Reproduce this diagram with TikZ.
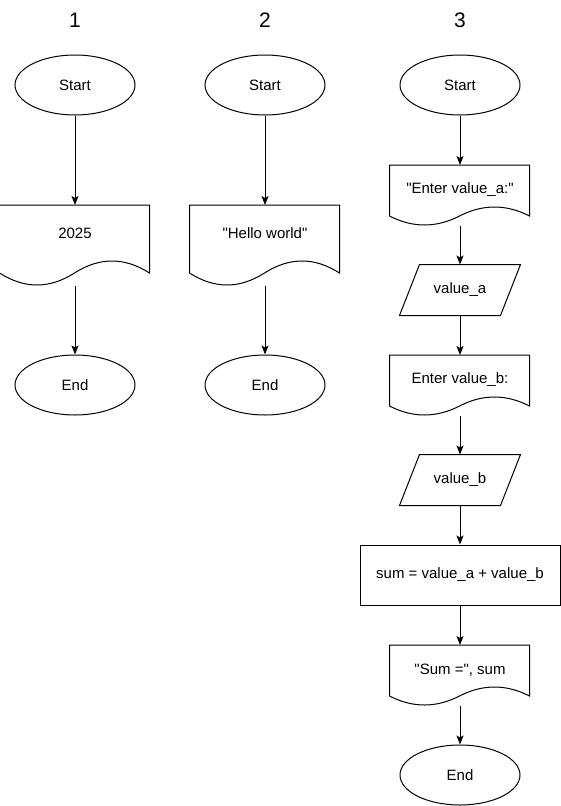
\documentclass[tikz,border=0pt]{standalone}
\usepackage{fontspec}
\setmainfont{Liberation Sans}[Ligatures=TeXOff]
\usetikzlibrary{shapes.geometric,arrows.meta}

% Document (printout) symbol: name, centre x, top y, width, height, text
\newcommand\docbox[6]{%
  \node[frame, minimum width=#4pt, minimum height=#5pt, anchor=north] (#1) at (#2,#3) {};
  \draw[shift={(#1.north west)}] (0,0) -- (#4,0) -- (#4,0.85*#5)
    .. controls (0.8333*#4,0.65*#5) and (0.6667*#4,0.65*#5) .. (0.5*#4,0.85*#5)
    .. controls (0.3333*#4,1.05*#5) and (0.1667*#4,1.05*#5) .. (0,0.85*#5) -- cycle;
  \node[txt] at ([yshift=-0.15*#5pt-16pt]#1.north) {#6};
}
% Input/output parallelogram: name, centre x, centre y, text
\newcommand\iobox[4]{%
  \node[frame, txt, minimum width=120pt, minimum height=50pt] (#1) at (#2,#3) {#4};
  \draw ([xshift=20pt]#1.north west) -- (#1.north east)
     -- ([xshift=-20pt]#1.south east) -- (#1.south west) -- cycle;
}

\begin{document}
\begin{tikzpicture}[x=1pt, y=-1pt, line width=1pt,
  txt/.style={font=\fontsize{15}{18}\selectfont, inner sep=0pt},
  frame/.style={rectangle, draw=none, inner sep=0pt},
  term/.style={ellipse, draw, txt, minimum width=120pt, minimum height=60pt},
  procbox/.style={rectangle, draw, txt, minimum width=200pt, minimum height=60pt},
  title/.style={font=\fontsize{21}{25}\selectfont, inner sep=0pt},
  flow/.style={-{Stealth[length=9pt, width=7pt, inset=2pt]}}]

\fill[white] (0,0) rectangle (561,806);
\useasboundingbox (0,0) rectangle (561,806);

% column headings
\node[title] (t1) at (75,20) {1};
\node[title] (t2) at (265,20) {2};
\node[title] (t3) at (460,20) {3};

% flowchart 1
\node[term] (s1) at (75,85) {Start};
\docbox{d1}{75}{205}{150}{80}{2025}
\node[term] (e1) at (75,385) {End};
\draw[flow] (s1) -- (d1);
\draw[flow] (d1) -- (e1);

% flowchart 2
\node[term] (s2) at (265,85) {Start};
\docbox{d2}{265}{205}{150}{80}{"Hello world"}
\node[term] (e2) at (265,385) {End};
\draw[flow] (s2) -- (d2);
\draw[flow] (d2) -- (e2);

% flowchart 3
\node[term] (s3) at (460,85) {Start};
\docbox{d3}{460}{165}{140}{60}{"Enter value\_a:"}
\iobox{p1}{460}{290}{value\_a}
\docbox{d4}{460}{355}{140}{60}{Enter value\_b:}
\iobox{p2}{460}{480}{value\_b}
\node[procbox] (c1) at (460,575) {sum = value\_a + value\_b};
\docbox{d5}{460}{645}{140}{60}{"Sum =", sum}
\node[term] (e3) at (460,775) {End};
\draw[flow] (s3) -- (d3);
\draw[flow] (d3) -- (p1);
\draw[flow] (p1) -- (d4);
\draw[flow] (d4) -- (p2);
\draw[flow] (p2) -- (c1);
\draw[flow] (c1) -- (d5);
\draw[flow] (d5) -- (e3);
\end{tikzpicture}
\end{document}
